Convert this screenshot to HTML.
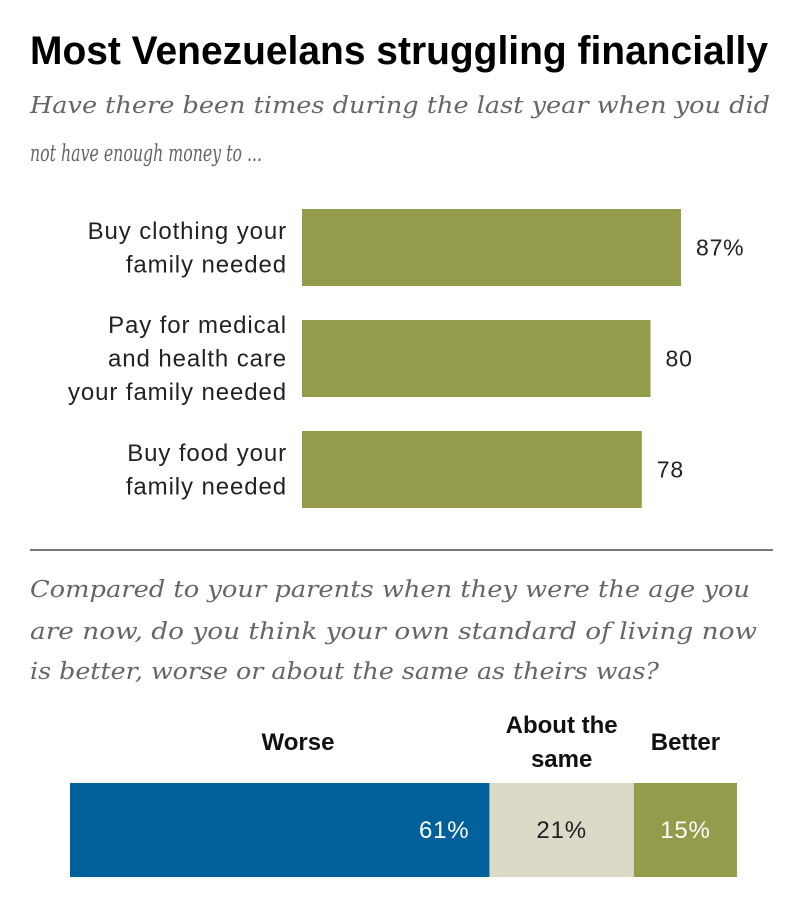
<!DOCTYPE html>
<html><head><meta charset="utf-8"><style>
html,body{margin:0;padding:0;background:#fff;}
svg{display:block;}
</style></head><body>
<svg width="800" height="913" xmlns="http://www.w3.org/2000/svg">
<text x="30" y="64" font-family="'Liberation Sans Narrow','Liberation Sans',sans-serif" font-weight="bold" font-size="40" fill="#000" textLength="738" lengthAdjust="spacingAndGlyphs">Most Venezuelans struggling financially</text>
<g font-family="'DejaVu Serif',serif" font-style="italic" font-size="23" fill="#666">
<text x="30" y="113" textLength="740" lengthAdjust="spacingAndGlyphs">Have there been times during the last year when you did</text>
<text x="30" y="161" textLength="232" lengthAdjust="spacingAndGlyphs">not have enough money to ...</text>
</g>
<g id="bars"></g>
<line x1="30" y1="550" x2="773" y2="550" stroke="#777" stroke-width="2"/>
<g font-family="'DejaVu Serif',serif" font-style="italic" font-size="23" fill="#666">
<text x="30" y="597" textLength="720" lengthAdjust="spacingAndGlyphs">Compared to your parents when they were the age you</text>
<text x="30" y="639" textLength="727" lengthAdjust="spacingAndGlyphs">are now, do you think your own standard of living now</text>
<text x="30" y="679" textLength="629" lengthAdjust="spacingAndGlyphs">is better, worse or about the same as theirs was?</text>
</g>
<g id="stack"></g>
</svg>
<script>
const categories = [["Buy clothing your","family needed"],["Pay for medical","and health care","your family needed"],["Buy food your","family needed"]];
const values = [87, 80, 78];
const valueLabels = ["87%", "80", "78"];
const stackCategories = [["Worse"],["About the","same"],["Better"]];
const stackValues = [61, 21, 15];
const stackLabels = ["61%", "21%", "15%"];

const NS = "http://www.w3.org/2000/svg";
function mk(tag, attrs, parent){const e=document.createElementNS(NS,tag);for(const k in attrs)e.setAttribute(k,attrs[k]);parent.appendChild(e);return e;}
const x0 = 302, scale = 379/87;
function xs(v){return x0 + v*scale;}
const rowTops = [209, 320, 431], rowH = 77;
const g = document.getElementById('bars');
values.forEach((v,i)=>{
  const r = mk('rect',{x:x0,y:rowTops[i],width:xs(v)-x0,height:rowH,fill:'#949c4b'},g);
  
  
  const cy = rowTops[i]+rowH/2;
  const t = mk('text',{x:xs(v)+15,y:cy+8,'font-family':'Liberation Sans, sans-serif','font-size':'23','letter-spacing':'0.8',fill:'#222'},g);
  t.textContent = valueLabels[i];
  
  
  const lines = categories[i], lh = 33.5;
  lines.forEach((ln,j)=>{
    const lt = mk('text',{x:287,y:cy+8+(j-(lines.length-1)/2)*lh,'text-anchor':'end','font-family':'Liberation Sans, sans-serif','font-size':'24','letter-spacing':'0.9',fill:'#222'},g);
    lt.textContent = ln;
    
    
  });
});
const s = document.getElementById('stack');
const sx0 = 70, sscale = (737-70)/97, sy = 783, sh = 94;
const colors = ['#02609a','#dcd9c6','#949c4b'];
const tcolors = ['#fff','#222','#fff'];
let acc = 0;
stackValues.forEach((v,i)=>{
  const xa = sx0+acc*sscale, xb = sx0+(acc+v)*sscale;
  const r = mk('rect',{x:xa,y:sy,width:xb-xa,height:sh,fill:colors[i]},s);
  
  
  const right = i===0;
  const t = mk('text',{x:right?xb-20:(xa+xb)/2,y:sy+sh/2+8,'text-anchor':right?'end':'middle','font-family':'Liberation Sans, sans-serif','font-size':'24','letter-spacing':'0.8',fill:tcolors[i]},s);
  t.textContent = stackLabels[i];
  
  
  const lines = stackCategories[i];
  const cx = i===0 ? 298 : (xa+xb)/2;
  lines.forEach((ln,j)=>{
    const lt = mk('text',{x:cx,y:750+(j-(lines.length-1)/2)*34,'text-anchor':'middle','font-family':'Liberation Sans, sans-serif','font-weight':'bold','font-size':'24',fill:'#111'},s);
    lt.textContent = ln;
    
    
  });
  acc += v;
});
</script>
</body></html>
